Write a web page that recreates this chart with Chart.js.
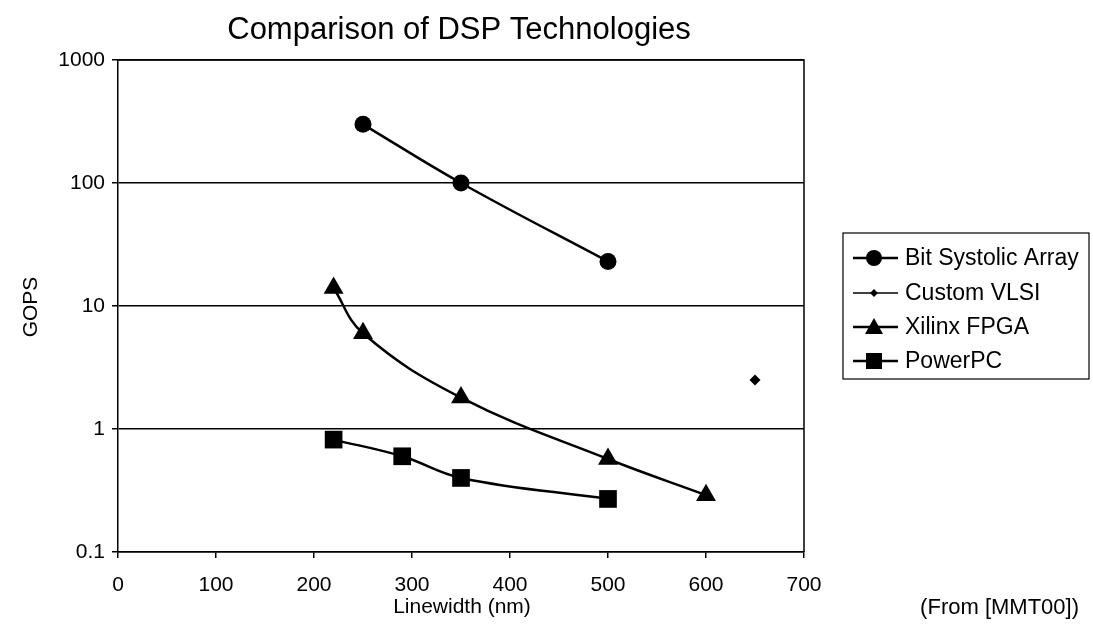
<!DOCTYPE html>
<html>
<head>
<meta charset="utf-8">
<script src="https://cdn.jsdelivr.net/npm/chart.js@4.4.0/dist/chart.umd.min.js"></script>
<style>
  html, body { margin: 0; padding: 0; background: #fff; }
  #wrap { width: 1093px; height: 638px; position: relative; }
</style>
</head>
<body>
<div id="wrap"><canvas id="dspChart"></canvas></div>
<script>
// series data
const seriesNames = ["Bit Systolic Array", "Custom VLSI", "Xilinx FPGA", "PowerPC"];
const systolicX = [250, 350, 500];
const systolicY = [300, 100, 23];
const vlsiX = [650];
const vlsiY = [2.5];
const fpgaX = [220, 250, 350, 500, 600];
const fpgaY = [14, 6, 1.8, 0.57, 0.29];
const ppcX = [220, 290, 350, 500];
const ppcY = [0.82, 0.6, 0.4, 0.27];

const xTicks = [0, 100, 200, 300, 400, 500, 600, 700];
const yTicks = [0.1, 1, 10, 100, 1000];

const FONT = "'Liberation Sans', Arial, sans-serif";

function toPoints(xs, ys) {
  return xs.map((x, i) => ({ x: x, y: ys[i] }));
}

const styles = [
  { pointStyle: "circle", radius: 8.5, lineWidth: 2.5 },
  { pointStyle: "rectRot", radius: 5.5, lineWidth: 1.3 },
  { pointStyle: "triangle", radius: 11.5, lineWidth: 2.5 },
  { pointStyle: "rect", radius: 12.5, lineWidth: 2.5 }
];
const allData = [
  toPoints(systolicX, systolicY),
  toPoints(vlsiX, vlsiY),
  toPoints(fpgaX, fpgaY),
  toPoints(ppcX, ppcY)
];

const datasets = seriesNames.map((name, i) => ({
  label: name,
  data: allData[i],
  borderColor: "#000",
  backgroundColor: "#000",
  borderWidth: styles[i].lineWidth,
  pointStyle: styles[i].pointStyle,
  pointRadius: styles[i].radius,
  pointHoverRadius: styles[i].radius,
  pointBorderWidth: 0,
  tension: 0.4,
  showLine: i !== 1
}));

// title, axis titles, box, legend and source note
const decorations = {
  id: "decorations",
  afterDraw(chart) {
    const ctx = chart.ctx;
    const area = chart.chartArea;
    ctx.save();
    ctx.fillStyle = "#000";
    ctx.strokeStyle = "#000";

    // plot frame (right and top)
    ctx.lineWidth = 1.5;
    ctx.beginPath();
    ctx.moveTo(area.left, area.top);
    ctx.lineTo(area.right, area.top);
    ctx.lineTo(area.right, area.bottom);
    ctx.stroke();

    // title
    ctx.font = "31px " + FONT;
    ctx.textAlign = "center";
    ctx.textBaseline = "alphabetic";
    ctx.fillText("Comparison of DSP Technologies", 459, 39);

    // axis titles
    ctx.font = "21px " + FONT;
    ctx.textBaseline = "middle";
    ctx.fillText("Linewidth (nm)", 462, 607);
    ctx.textAlign = "right";
    ctx.font = "22px " + FONT;
    ctx.fillText("(From [MMT00])", 1079, 608);

    ctx.save();
    ctx.translate(31, 307);
    ctx.rotate(-Math.PI / 2);
    ctx.textAlign = "center";
    ctx.font = "21px " + FONT;
    ctx.fillText("GOPS", 0, 0);
    ctx.restore();

    // legend box
    const lx = 843, ly = 233, lw = 246, lh = 146;
    ctx.lineWidth = 1.2;
    ctx.strokeRect(lx, ly, lw, lh);
    const rowY = [258, 293, 327, 361];
    ctx.font = "23px " + FONT;
    ctx.textAlign = "left";
    ctx.textBaseline = "middle";
    seriesNames.forEach((name, i) => {
      const y = rowY[i];
      ctx.lineWidth = styles[i].lineWidth;
      ctx.beginPath();
      ctx.moveTo(853, y);
      ctx.lineTo(898, y);
      ctx.stroke();
      const r = i === 1 ? 4 : 8;
      ctx.beginPath();
      if (styles[i].pointStyle === "circle") {
        ctx.arc(874, y, r, 0, Math.PI * 2);
      } else if (styles[i].pointStyle === "rectRot") {
        ctx.moveTo(874, y - r); ctx.lineTo(874 + r, y); ctx.lineTo(874, y + r); ctx.lineTo(874 - r, y);
        ctx.closePath();
      } else if (styles[i].pointStyle === "triangle") {
        ctx.moveTo(874, y - r - 1); ctx.lineTo(874 + r + 1, y + r - 1); ctx.lineTo(874 - r - 1, y + r - 1);
        ctx.closePath();
      } else {
        ctx.rect(874 - r, y - r, r * 2, r * 2);
      }
      ctx.fill();
      ctx.fillText(name, 905, y + 1);
    });
    ctx.restore();
  }
};

new Chart(document.getElementById("dspChart"), {
  type: "line",
  data: { datasets: datasets },
  options: {
    responsive: true,
    maintainAspectRatio: false,
    animation: false,
    events: [],
    layout: { padding: { top: 60, right: 289, left: 0, bottom: 0 } },
    plugins: {
      legend: { display: false },
      title: { display: false },
      tooltip: { enabled: false }
    },
    scales: {
      x: {
        type: "linear",
        min: 0,
        max: 700,
        afterBuildTicks: (scale) => { scale.ticks = xTicks.map(v => ({ value: v })); },
        afterFit: (scale) => { scale.height = 86; },
        border: { display: true, color: "#000", width: 1.5 },
        grid: { drawOnChartArea: false, drawTicks: true, tickLength: 6, color: "#000", lineWidth: 1.5 },
        ticks: { color: "#000", font: { family: FONT, size: 21 }, padding: 15, maxRotation: 0 }
      },
      y: {
        type: "logarithmic",
        min: 0.1,
        max: 1000,
        afterBuildTicks: (scale) => { scale.ticks = yTicks.map(v => ({ value: v })); },
        afterFit: (scale) => { scale.width = 118; },
        border: { display: true, color: "#000", width: 1.5 },
        grid: { drawOnChartArea: true, drawTicks: true, tickLength: 6, color: "#000", lineWidth: 1.5 },
        ticks: {
          color: "#000",
          font: { family: FONT, size: 21 },
          padding: 7,
          callback: (v) => String(v)
        }
      }
    }
  },
  plugins: [decorations]
});
</script>
</body>
</html>
